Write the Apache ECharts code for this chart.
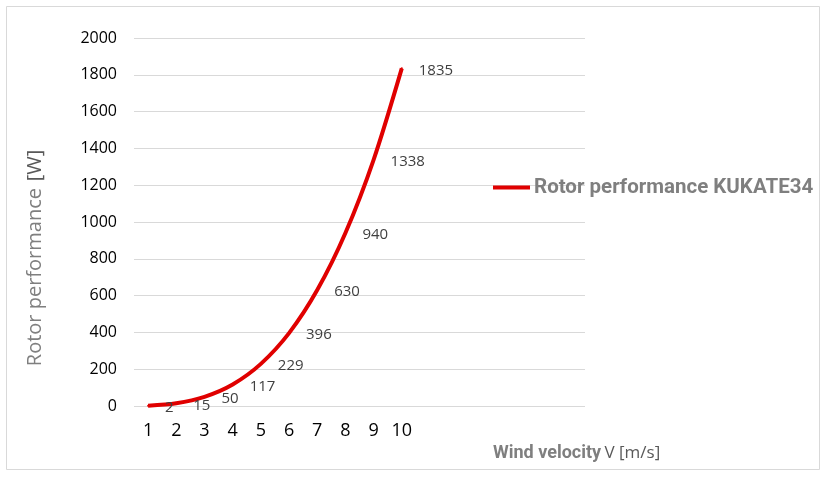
<!DOCTYPE html>
<html><head><meta charset="utf-8">
<script src="https://cdn.jsdelivr.net/npm/echarts@6/dist/echarts.min.js"></script>
<style>html,body{margin:0;padding:0;background:#fff}#c{width:832px;height:477px}</style>
</head><body><div id="c"></div>
<script>
const categories = ['1','2','3','4','5','6','7','8','9','10','','','','','',''];
const power = [2, 15, 50, 117, 229, 396, 630, 940, 1338, 1835];
const yTicks = [0, 200, 400, 600, 800, 1000, 1200, 1400, 1600, 1800, 2000];
const seriesName = 'Rotor performance KUKATE34';

const chart = echarts.init(document.getElementById('c'), null, {renderer: 'canvas'});
chart.setOption({
  animation: false,
  backgroundColor: '#fff',
  graphic: [{type: 'rect', shape: {x: 6.5, y: 6.5, width: 813, height: 463}, style: {fill: 'none', stroke: '#d9d9d9', lineWidth: 1}}],
  grid: {left: 134, right: 247, top: 38, bottom: 71, containLabel: false},
  legend: {
    data: [seriesName], left: 488, top: 172, itemWidth: 37, itemHeight: 4, icon: 'rect', itemGap: 0,
    itemStyle: {color: '#e00000'},
    textStyle: {color: '#7f7f7f', fontSize: 20.5, fontWeight: 'bold', fontFamily: 'Roboto', padding: [0, 0, 0, -1]}
  },
  xAxis: {
    type: 'category', data: categories, boundaryGap: true,
    axisLine: {show: false}, axisTick: {show: false},
    axisLabel: {color: '#000', fontSize: 18, fontFamily: 'Open Sans', margin: 16},
    name: '{a|Wind velocity} {b|V [m/s]}', nameLocation: 'start',
    nameGap: 0,
    nameTextStyle: {
      align: 'left', verticalAlign: 'top', padding: [38, 0, 0, 359],
      rich: {
        a: {color: '#7f7f7f', fontSize: 18, fontWeight: 'bold', fontFamily: 'Roboto'},
        b: {color: '#595959', fontSize: 17, fontFamily: 'Open Sans'}
      }
    }
  },
  yAxis: {
    type: 'value', min: 0, max: 2000, interval: 200,
    axisLine: {show: false}, axisTick: {show: false},
    splitLine: {lineStyle: {color: '#d9d9d9', width: 1}},
    axisLabel: {color: '#000', fontSize: 16, fontFamily: 'Open Sans', margin: 17,
      formatter: v => yTicks.includes(v) ? String(v) : ''},
    name: '{a|Rotor performance}  {b|[W]}', nameLocation: 'middle', nameGap: 89, nameRotate: 90,
    nameTextStyle: {
      padding: [0, 72, 0, 0],
      rich: {
        a: {color: '#7f7f7f', fontSize: 20, fontFamily: 'Open Sans'},
        b: {color: '#595959', fontSize: 20, fontFamily: 'Open Sans'}
      }
    }
  },
  series: [{
    name: seriesName, type: 'line', data: power, smooth: 0.3,
    showSymbol: true, symbol: 'circle', symbolSize: 2,
    lineStyle: {color: '#e00000', width: 4},
    itemStyle: {color: '#e00000'},
    label: {show: true, position: 'right', distance: 16, offset: [0, 2], color: '#404040', fontSize: 15, fontFamily: 'Open Sans'}
  }]
});
</script></body></html>
